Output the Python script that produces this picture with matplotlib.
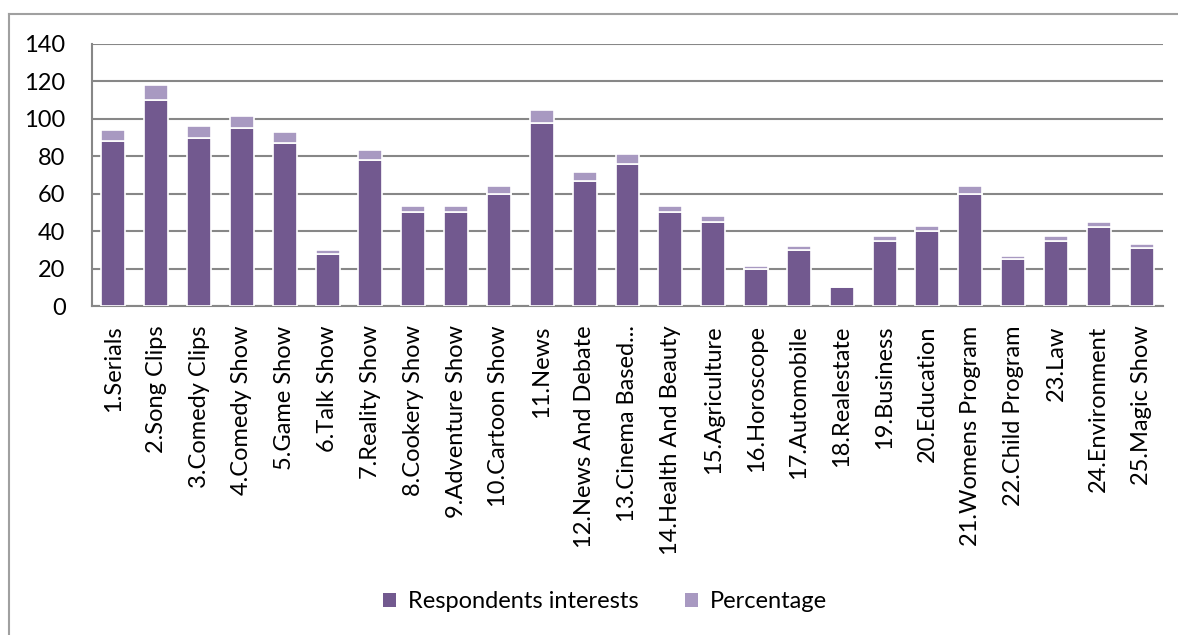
import matplotlib
matplotlib.use("Agg")
import matplotlib.pyplot as plt
from matplotlib.lines import Line2D
from matplotlib.patches import Patch

categories = ["1.Serials", "2.Song Clips", "3.Comedy Clips", "4.Comedy Show", "5.Game Show",
              "6.Talk Show", "7.Reality Show", "8.Cookery Show", "9.Adventure Show",
              "10.Cartoon Show", "11.News", "12.News And Debate", "13.Cinema Based...",
              "14.Health And Beauty", "15.Agriculture", "16.Horoscope", "17.Automobile",
              "18.Realestate", "19.Business", "20.Education", "21.Womens Program",
              "22.Child Program", "23.Law", "24.Environment", "25.Magic Show"]
respondents = [88, 110, 90, 95, 87, 28, 78, 50, 50, 60, 98, 67, 76, 50, 45, 20, 30, 10,
               35, 40, 60, 25, 35, 42, 31]
percentage = [6.29, 7.86, 6.43, 6.79, 6.21, 2.0, 5.57, 3.57, 3.57, 4.29, 7.0, 4.79, 5.43,
              3.57, 3.21, 1.43, 2.14, 0.71, 2.5, 2.86, 4.29, 1.79, 2.5, 3.0, 2.21]
yticks = [0, 20, 40, 60, 80, 100, 120, 140]

DARK = "#72598F"
LIGHT = "#A899C1"
GRID = "#878787"

plt.rcParams['font.family'] = ['Lato', 'DejaVu Sans']

fig = plt.figure(figsize=(11.78, 6.35), dpi=100)
W, H = 1178, 635
ax = fig.add_axes([92 / W, 1 - 306 / H, (1163 - 92) / W, (306 - 44) / H])

x = list(range(len(categories)))
ax.bar(x, respondents, width=0.56, color=DARK, edgecolor="white", linewidth=1.2, zorder=3)
ax.bar(x, percentage, bottom=respondents, width=0.56, color=LIGHT, edgecolor="white",
       linewidth=1.2, zorder=3)

ax.set_xlim(-0.5, len(categories) - 0.5)
ax.set_ylim(0, 140)
ax.set_yticks(yticks)
ax.set_yticklabels([str(t) for t in yticks], fontsize=17)
ax.set_xticks(x)
ax.set_xticklabels(categories, rotation=90, fontsize=17)
ax.tick_params(axis='y', length=0, pad=19)
ax.tick_params(axis='x', length=0, pad=14)
ax.yaxis.grid(True, color=GRID, linewidth=1.5, zorder=0)
ax.set_axisbelow(True)
for s in ["top", "right"]:
    ax.spines[s].set_visible(False)
ax.spines["left"].set_color(GRID)
ax.spines["left"].set_linewidth(1.5)
ax.spines["bottom"].set_color(GRID)
ax.spines["bottom"].set_linewidth(1.5)

# outer chart frame (top & left visible)
fig.add_artist(Line2D([9 / W, 1.0], [1 - 14 / H, 1 - 14 / H], color="#A0A0A0", linewidth=1.5))
fig.add_artist(Line2D([9 / W, 9 / W], [0.0, 1 - 14 / H], color="#A0A0A0", linewidth=1.5))

handles = [Patch(facecolor=DARK, edgecolor="none"), Patch(facecolor=LIGHT, edgecolor="none")]
fig.legend(handles, ["Respondents interests", "Percentage"], loc="center",
           bbox_to_anchor=(605 / W, 1 - 602 / H), ncol=2, frameon=False, fontsize=17,
           handlelength=0.55, handleheight=0.55, handletextpad=0.5, columnspacing=2.0)

fig.savefig("out.png", dpi=100, facecolor="white")
